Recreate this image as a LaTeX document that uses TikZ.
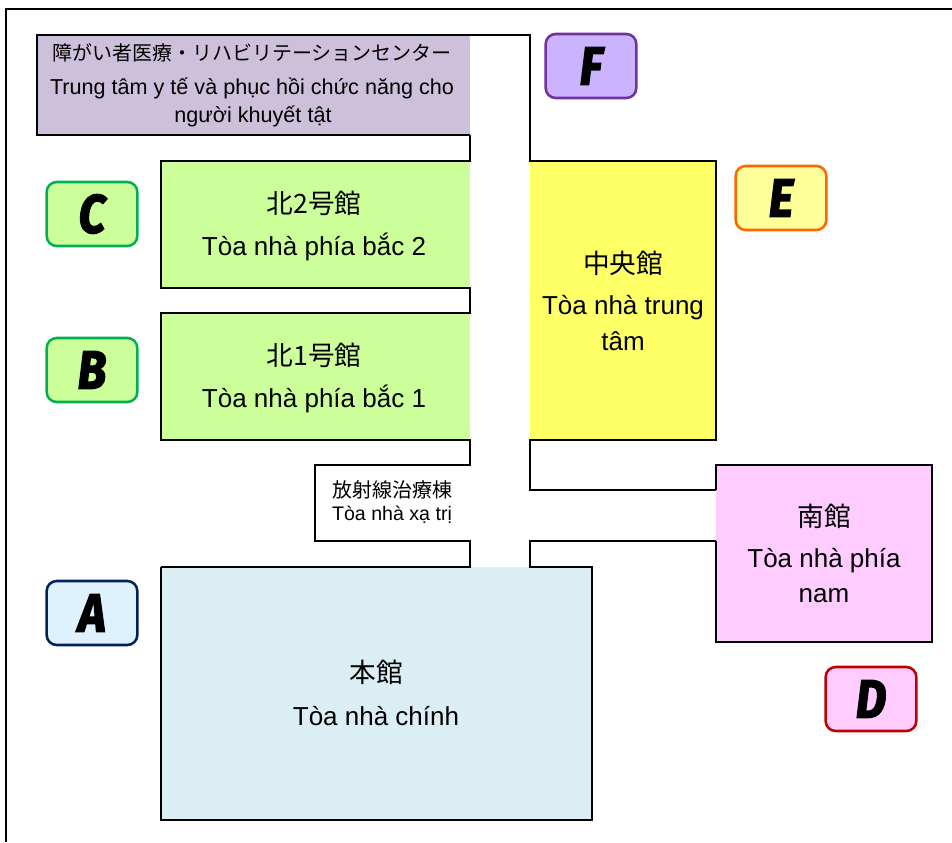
\documentclass[tikz,border=0pt]{standalone}
\usepackage{fontspec}
\setmainfont{Liberation Sans}
\newfontfamily\cjk{Noto Sans CJK JP}
\newfontfamily\lett{Fira Sans}[BoldItalicFeatures={FakeBold=3}]
\definecolor{cPurple}{HTML}{CCC0DA}
\definecolor{cGreen}{HTML}{CCFF99}
\definecolor{cYellow}{HTML}{FFFF66}
\definecolor{cPale}{HTML}{FFFF99}
\definecolor{cPink}{HTML}{FFCCFF}
\definecolor{cBlue}{HTML}{DAEEF3}
\definecolor{cLtBlue}{HTML}{DDF2FD}
\definecolor{cViolet}{HTML}{CCB3FF}
\definecolor{bGreen}{HTML}{00B050}
\definecolor{bNavy}{HTML}{002060}
\definecolor{bRed}{HTML}{C00000}
\definecolor{bOrange}{HTML}{FF6600}
\definecolor{bViolet}{HTML}{7030A0}
\newcommand{\tallet}[1]{\scalebox{0.98}[1.12]{\lett\bfseries\itshape #1}}
\tikzset{
  wall/.style={draw=black,line width=1.9pt},
  lbl/.style={align=center,inner sep=0pt,font=\fontsize{19.5}{19.5}\selectfont},
  han/.style={align=center,inner sep=0pt,font=\cjk\fontsize{20}{20}\selectfont},
  sml/.style={align=center,inner sep=0pt,font=\fontsize{14.7}{14.7}\selectfont},
  badge/.style={rounded corners=7.5pt,line width=1.9pt,minimum width=68pt,minimum height=48pt,inner sep=0pt,
    font=\fontsize{36}{36}\selectfont},
}
\begin{document}
\begin{tikzpicture}[x=0.75pt,y=-0.75pt]
\useasboundingbox (0,0) rectangle (952,842);
\fill[white] (0,0) rectangle (952,842);
% outer frame
\draw[line width=2pt] (6,842) -- (6,9) -- (952,9);
% fills
\fill[cPurple] (37,35) rectangle (470,135);
\fill[cGreen] (161,161) rectangle (470,288);
\fill[cGreen] (161,313) rectangle (470,440);
\fill[cYellow] (530,161) rectangle (716,440);
\fill[cPink] (716,465) rectangle (932,642);
\fill[cBlue] (161,567) rectangle (592,820);
% walls
\draw[wall] (470,135) -- (37,135) -- (37,35) -- (530,35) -- (530,161) -- (716,161) -- (716,440) -- (530,440) -- (530,490) -- (716,490);
\draw[wall] (716,490) -- (716,465) -- (932,465) -- (932,642) -- (716,642) -- (716,541);
\draw[wall] (716,541) -- (530,541) -- (530,567) -- (592,567) -- (592,820) -- (161,820) -- (161,567);
\draw[wall] (161,567) -- (470,567) -- (470,541) -- (315,541) -- (315,465) -- (470,465) -- (470,440) -- (161,440) -- (161,313) -- (470,313) -- (470,288) -- (161,288) -- (161,161) -- (470,161) -- (470,135);
% labels
\node[sml,font=\cjk\fontsize{15}{15}\selectfont] (tF1) at (252,53) {障がい者医療・リハビリテーションセンター};
\node[lbl,font=\fontsize{16.2}{16}\selectfont] (tF2) at (252,88) {Trung tâm y tế và phục hồi chức năng cho};
\node[lbl,font=\fontsize{16.2}{16}\selectfont] (tF3) at (253,116) {người khuyết tật};
\node[han] (tC1) at (314,203) {北2号館};
\node[lbl] (tC2) at (314,247) {Tòa nhà phía bắc 2};
\node[han] (tB1) at (314,355) {北1号館};
\node[lbl] (tB2) at (314,399) {Tòa nhà phía bắc 1};
\node[han] (tE1) at (623,263) {中央館};
\node[lbl] (tE2) at (623,308) {Tòa nhà trung};
\node[lbl] (tE3) at (623,341) {tâm};
\node[sml,font=\cjk\fontsize{15}{15}\selectfont] (tR1) at (392,490) {放射線治療棟};
\node[sml] (tR2) at (392,515) {Tòa nhà xạ trị};
\node[han] (tD1) at (824,516) {南館};
\node[lbl] (tD2) at (824,561) {Tòa nhà phía};
\node[lbl] (tD3) at (824,596) {nam};
\node[han] (tA1) at (376,672) {本館};
\node[lbl] (tA2) at (376,716) {Tòa nhà chính};
% badges
\node[badge,draw=bGreen,fill=cGreen] (C) at (92,214) {\tallet{C}};
\node[badge,draw=bGreen,fill=cGreen] (B) at (92,370) {\tallet{B}};
\node[badge,draw=bNavy,fill=cLtBlue] (A) at (92,613) {\tallet{A}};
\node[badge,draw=bRed,fill=cPink] (D) at (871,699) {\tallet{D}};
\node[badge,draw=bOrange,fill=cPale] (E) at (781,198) {\tallet{E}};
\node[badge,draw=bViolet,fill=cViolet] (F) at (591,66) {\tallet{F}};
\end{tikzpicture}
\end{document}
